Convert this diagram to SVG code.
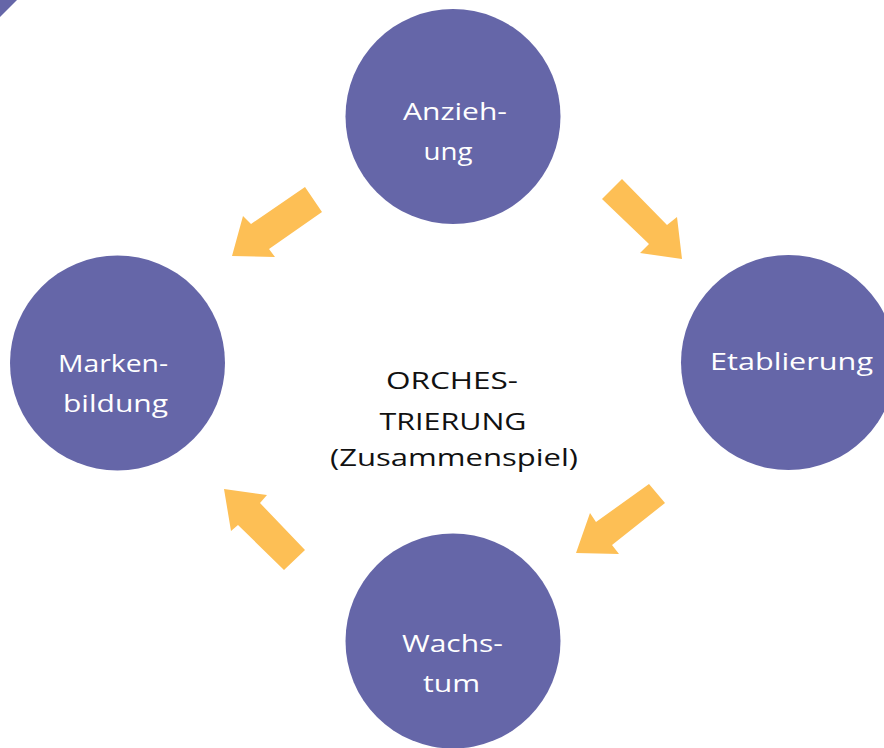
<svg xmlns="http://www.w3.org/2000/svg" width="884" height="748" viewBox="0 0 884 748">
<style>
.node{fill:#6566A8}
.lbl{font-family:"Open Sans","Liberation Sans",sans-serif;font-size:24px;fill:#ffffff;text-anchor:middle}
.ctr{font-family:"Open Sans","Liberation Sans",sans-serif;font-size:24px;fill:#111111;text-anchor:middle}
.arr{fill:#FDBF55}
</style>
<rect width="884" height="748" fill="#ffffff"/>
<polygon points="0,0 17,0 0,17" fill="#6566A8"/>
<g id="connectors">
<polygon class="arr" points="305,187 322,212 269,249 275,257 232,256 243,216 251,224"/>
<polygon class="arr" points="602,199 622,179 667,225 677,217 682,259 640,253 649,244"/>
<polygon class="arr" points="649,484 665,503 612,545 619,554 576,553 590,513 596,522"/>
<polygon class="arr" points="305,550 284,570 238,525 231,531 224,489 267,495 260,503"/>
</g>
<g id="anziehung">
<circle class="node" cx="453" cy="116.5" r="107.5"/>
<text class="lbl" x="455" y="120" textLength="104" lengthAdjust="spacingAndGlyphs">Anzieh-</text>
<text class="lbl" x="448" y="160" textLength="49" lengthAdjust="spacingAndGlyphs">ung</text>
</g>
<g id="markenbildung">
<circle class="node" cx="117.5" cy="363" r="107.5"/>
<text class="lbl" x="113" y="372" textLength="110" lengthAdjust="spacingAndGlyphs">Marken-</text>
<text class="lbl" x="115.5" y="412" textLength="105" lengthAdjust="spacingAndGlyphs">bildung</text>
</g>
<g id="etablierung">
<circle class="node" cx="788.5" cy="362.5" r="107.5"/>
<text class="lbl" x="791.5" y="370" textLength="163" lengthAdjust="spacingAndGlyphs">Etablierung</text>
</g>
<g id="wachstum">
<circle class="node" cx="453" cy="641" r="107.5"/>
<text class="lbl" x="452.5" y="652" textLength="101" lengthAdjust="spacingAndGlyphs">Wachs-</text>
<text class="lbl" x="451.5" y="692" textLength="57" lengthAdjust="spacingAndGlyphs">tum</text>
</g>
<g id="center">
<text class="ctr" x="452" y="389" textLength="132" lengthAdjust="spacingAndGlyphs">ORCHES-</text>
<text class="ctr" x="453" y="430" textLength="147" lengthAdjust="spacingAndGlyphs">TRIERUNG</text>
<text class="ctr" x="454" y="466" textLength="248" lengthAdjust="spacingAndGlyphs">(Zusammenspiel)</text>
</g>
</svg>
